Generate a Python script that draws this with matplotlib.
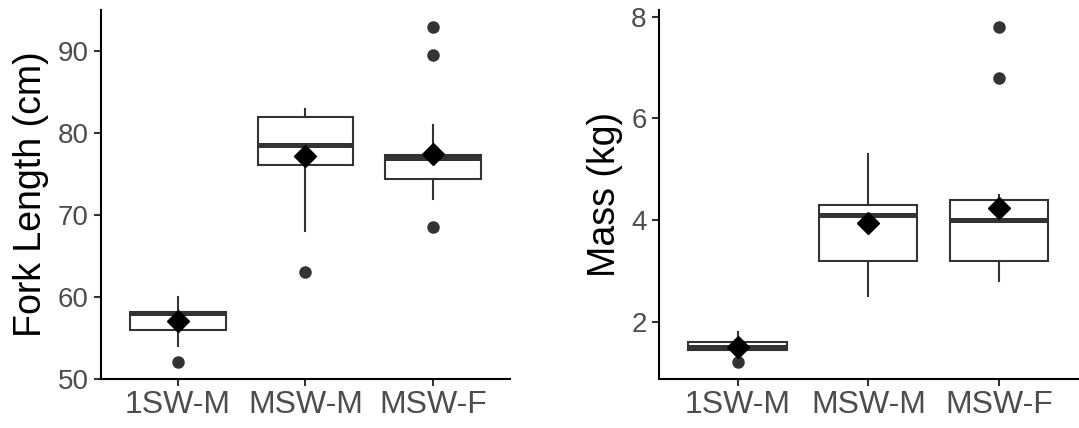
import numpy as np
import matplotlib.pyplot as plt

plt.rcParams['font.family'] = ['Liberation Sans', 'DejaVu Sans']

groups = ['1SW-M', 'MSW-M', 'MSW-F']

# Fork length (cm) summaries per group
fl_q1 = [56.0, 76.1, 74.4]
fl_med = [58.0, 78.5, 77.0]
fl_q3 = [58.2, 82.0, 77.3]
fl_lo = [54.0, 68.0, 72.0]
fl_hi = [60.0, 83.0, 81.0]
fl_out = [[52.0], [63.0], [68.5, 89.5, 93.0]]
fl_mean = [57.1, 77.2, 77.4]

# Mass (kg) summaries per group
kg_q1 = [1.45, 3.2, 3.2]
kg_med = [1.5, 4.1, 4.0]
kg_q3 = [1.6, 4.3, 4.4]
kg_lo = [1.4, 2.5, 2.8]
kg_hi = [1.8, 5.3, 4.5]
kg_out = [[1.2], [], [6.8, 7.8]]
kg_mean = [1.5, 3.93, 4.23]

BOX_COL = '#333333'
TXT_COL = '#4D4D4D'


def make_stats(q1, med, q3, lo, hi, out, mean):
    return [dict(q1=a, med=b, q3=c, whislo=d, whishi=e, fliers=f, mean=g, label=n)
            for a, b, c, d, e, f, g, n in zip(q1, med, q3, lo, hi, out, mean, groups)]


def draw_panel(ax, stats, ylabel, ylim, yticks):
    ax.bxp(stats, positions=range(1, len(stats) + 1), widths=0.75,
           showcaps=False, showmeans=True, patch_artist=True,
           boxprops=dict(facecolor='white', edgecolor=BOX_COL, linewidth=1.5),
           whiskerprops=dict(color=BOX_COL, linewidth=1.5),
           medianprops=dict(color=BOX_COL, linewidth=3.6, solid_capstyle='butt'),
           flierprops=dict(marker='o', markerfacecolor=BOX_COL, markeredgecolor=BOX_COL,
                           markersize=8),
           meanprops=dict(marker='D', markerfacecolor='black', markeredgecolor='black',
                          markersize=11.5))
    ax.set_xlim(0.4, 3.6)
    ax.set_ylim(*ylim)
    ax.set_yticks(yticks)
    ax.set_ylabel(ylabel, fontsize=27, color='black', labelpad=6)
    for side in ['top', 'right']:
        ax.spines[side].set_visible(False)
    for side in ['left', 'bottom']:
        ax.spines[side].set_linewidth(1.5)
        ax.spines[side].set_color('black')
    ax.tick_params(axis='both', colors=BOX_COL, width=1.5, length=5)
    ax.tick_params(axis='y', labelsize=20, labelcolor=TXT_COL, pad=4)
    ax.tick_params(axis='x', labelsize=23, labelcolor=TXT_COL, pad=3)


fig = plt.figure(figsize=(10.79, 4.28), dpi=100)
ax1 = fig.add_axes([0.0936, 0.1145, 0.379, 0.862])
ax2 = fig.add_axes([0.6108, 0.1145, 0.388, 0.862])

draw_panel(ax1, make_stats(fl_q1, fl_med, fl_q3, fl_lo, fl_hi, fl_out, fl_mean),
           'Fork Length (cm)', (49.95, 95.05), [50, 60, 70, 80, 90])
draw_panel(ax2, make_stats(kg_q1, kg_med, kg_q3, kg_lo, kg_hi, kg_out, kg_mean),
           'Mass (kg)', (0.87, 8.13), [2, 4, 6, 8])

fig.savefig('out.png', dpi=100)
